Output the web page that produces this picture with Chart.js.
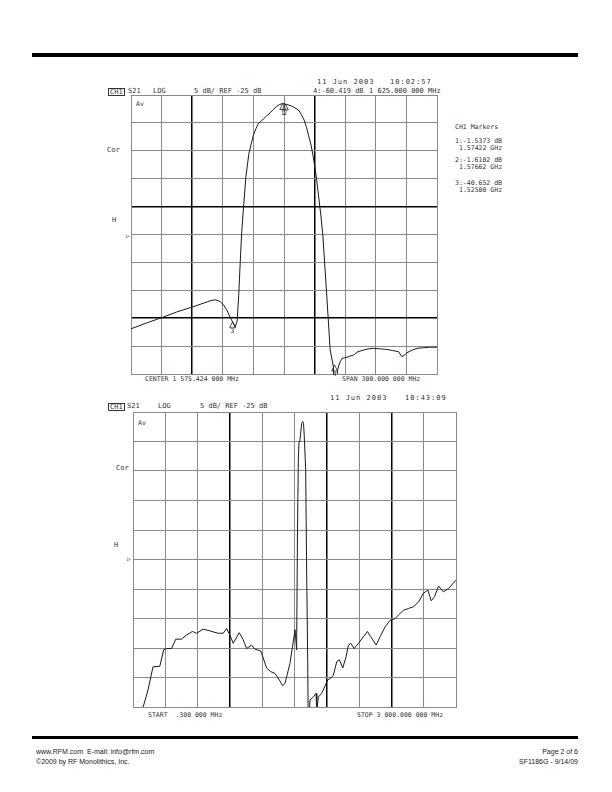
<!DOCTYPE html>
<html>
<head>
<meta charset="utf-8">
<script src="https://cdn.jsdelivr.net/npm/chart.js@4.4.0/dist/chart.umd.min.js"></script>
<style>
body { margin:0; background:#fff; }
#page { position:relative; width:612px; height:792px; overflow:hidden; }
.t { position:absolute; font-family:"DejaVu Sans Mono", monospace; font-size:7px; line-height:8px; color:#333; white-space:pre; }
.s { font-size:6.5px; }
.d { letter-spacing:1px; }
.box { border:1px solid #333; padding:0 1px; line-height:6px; }
.bar { position:absolute; background:#000; left:32px; width:546px; }
.foot { position:absolute; font-family:"Liberation Sans", Arial, sans-serif; font-size:7px; line-height:10px; color:#222; white-space:pre; }
canvas { position:absolute; }
</style>
</head>
<body>
<div id="page">
<div class="bar" style="top:53px;height:4px;"></div>

<div class="t d" style="left:317px;top:78px;">11 Jun 2003</div>
<div class="t d" style="left:390px;top:78px;">10:02:57</div>
<div class="t box" style="left:108px;top:88px;">CH1</div>
<div class="t" style="left:128px;top:87px;">S21</div>
<div class="t" style="left:153px;top:87px;">LOG</div>
<div class="t" style="left:194px;top:87px;">5 dB/ REF -25 dB</div>
<div class="t" style="left:313px;top:87px;">4:-60.419 dB</div>
<div class="t" style="left:369px;top:87px;">1 625.000 000 MHz</div>
<div class="t s" style="left:136px;top:100px;">Av</div>
<div class="t" style="left:107px;top:146px;">Cor</div>
<div class="t" style="left:112px;top:216px;">H</div>
<div class="t s" style="left:126px;top:232px;">▷</div>
<div class="t s" style="left:145px;top:375px;">CENTER 1 575.424 000 MHz</div>
<div class="t s" style="left:342px;top:375px;">SPAN 300.000 000 MHz</div>

<div class="t s" style="left:455px;top:123px;">CH1 Markers</div>
<div class="t s" style="left:455px;top:137px;">1:-1.5373 dB</div>
<div class="t s" style="left:459px;top:144px;">1.57422 GHz</div>
<div class="t s" style="left:455px;top:156px;">2:-1.6102 dB</div>
<div class="t s" style="left:459px;top:163px;">1.57662 GHz</div>
<div class="t s" style="left:455px;top:179px;">3:-40.652 dB</div>
<div class="t s" style="left:459px;top:186px;">1.52500 GHz</div>

<div class="t d" style="left:330px;top:394px;">11 Jun 2003</div>
<div class="t d" style="left:405px;top:394px;">10:43:09</div>
<div class="t box" style="left:108px;top:403px;">CH1</div>
<div class="t" style="left:127px;top:402px;">S21</div>
<div class="t" style="left:158px;top:402px;">LOG</div>
<div class="t" style="left:200px;top:402px;">5 dB/ REF -25 dB</div>
<div class="t s" style="left:138px;top:419px;">Av</div>
<div class="t" style="left:116px;top:464px;">Cor</div>
<div class="t" style="left:114px;top:541px;">H</div>
<div class="t s" style="left:127px;top:555px;">▷</div>
<div class="t s" style="left:148px;top:711px;">START  .300 000 MHz</div>
<div class="t s" style="left:357px;top:711px;">STOP 3 000.000 000 MHz</div>

<canvas id="c1" width="310" height="283" style="left:129px;top:93px;"></canvas>
<canvas id="c2" width="327" height="299" style="left:131px;top:410px;"></canvas>

<div class="bar" style="top:736px;height:3px;"></div>
<div class="foot" style="left:36px;top:747px;">www.RFM.com  E-mail: info@rfm.com</div>
<div class="foot" style="left:36px;top:757px;">©2009 by RF Monolithics, Inc.</div>
<div class="foot" style="right:34px;top:747px;text-align:right;">Page 2 of 6</div>
<div class="foot" style="right:34px;top:757px;text-align:right;">SF1186G - 9/14/09</div>
</div>

<script>
// upper sweep, MHz / dB
var topFreq = [1425.4, 1440, 1457, 1470, 1485.6, 1495, 1502.9, 1508, 1512.8, 1516,
	1519.3, 1522.5, 1525, 1527.5, 1529.5, 1531, 1532.5, 1534, 1536, 1538,
	1541, 1545.4, 1548, 1550.3, 1553, 1555.2, 1558, 1561.8, 1565, 1568.4,
	1571, 1574.22, 1576.62, 1580, 1583.1, 1586, 1589.6, 1592.5, 1595.2, 1597.5,
	1599.4, 1602, 1604.3, 1607, 1609.2, 1611.5, 1613.5, 1617, 1620.7, 1623.9,
	1625, 1627.9, 1630, 1632.3, 1635, 1637.2, 1640, 1643.6, 1648, 1653.4,
	1658, 1663.2, 1670, 1676.3, 1682, 1687.7, 1691, 1693.5, 1696, 1700,
	1705.8, 1712, 1718, 1725.4];
var topDb = [-41.9, -40.9, -39.8, -38.9, -38.0, -37.4, -36.9, -36.7, -37.0, -37.6,
	-38.5, -39.8, -40.65, -41.6, -40.5, -36.0, -30.0, -24.5, -19.5, -14.8,
	-10.5, -7.2, -6.0, -5.1, -4.7, -4.3, -3.8, -3.2, -2.6, -2.0,
	-1.7, -1.54, -1.61, -1.8, -2.0, -2.3, -2.7, -3.5, -4.5, -5.8,
	-7.2, -9.0, -11.3, -14.5, -17.9, -21.5, -25.1, -35.0, -45.7, -48.7,
	-60.4, -49.3, -48.0, -47.2, -47.1, -47.0, -46.8, -46.6, -46.0, -45.7,
	-45.5, -45.4, -45.5, -45.6, -45.8, -46.0, -46.9, -46.6, -46.2, -45.8,
	-45.4, -45.3, -45.2, -45.2];

// lower sweep, MHz / dB
var botFreq = [0.3, 60, 93, 140, 186, 249, 286, 311, 358, 398,
	451, 497, 553, 590, 652, 714, 791, 838, 869, 900,
	931, 987, 1024, 1055, 1102, 1133, 1186, 1210, 1241, 1279,
	1319, 1359, 1390, 1412, 1458, 1505, 1520, 1528, 1536, 1542,
	1551, 1567, 1575, 1584, 1591, 1604, 1612, 1623, 1629, 1644,
	1675, 1700, 1707, 1722, 1753, 1784, 1809, 1837, 1861, 1893,
	1917, 1948, 1979, 2001, 2023, 2054, 2094, 2140, 2177, 2209,
	2258, 2295, 2342, 2388, 2435, 2466, 2512, 2559, 2605, 2652,
	2698, 2739, 2770, 2801, 2838, 2884, 2931, 3000];
var botDb = [-52, -52, -50.1, -47.1, -43.2, -43.1, -40.3, -40.1, -40.1, -38.5,
	-38.5, -37.8, -37.2, -37.5, -36.8, -37.1, -37.5, -37.5, -36.7, -37.8,
	-39.2, -37.4, -38.6, -40.1, -39.5, -40.2, -40.5, -41.7, -43.4, -44.0,
	-44.3, -45.4, -46.4, -46.0, -42.6, -36.9, -40.3, -20, -8, -5,
	-4.7, -1.9, -1.6, -1.9, -4.2, -9.8, -25, -42.6, -55, -48.8,
	-48.3, -47.7, -50.5, -48.3, -47.7, -46.4, -45.4, -45.1, -44.6, -42.3,
	-42.0, -43.4, -41.5, -39.5, -39.2, -40.1, -39.2, -38.1, -37.2, -38.1,
	-39.5, -38.1, -36.4, -35.3, -35.0, -34.4, -33.6, -33.3, -33.0, -32.2,
	-30.7, -30.2, -32.0, -31.3, -29.5, -30.5, -29.9, -28.5];

var topStart = 1425.424, topStop = 1725.424;
var botStart = 0.3, botStop = 3000;

var markerNum = ['1', '2', '3', '4'];
var markerFreq = [1574.22, 1576.62, 1525.00, 1625.00];
var markerDb = [-1.5373, -1.6102, -40.652, -60.419];

var markerPlugin = {
	id: 'markers',
	afterDatasetsDraw: function(chart) {
		var ctx = chart.ctx, xs = chart.scales.x, ys = chart.scales.y;
		ctx.save();
		ctx.strokeStyle = '#222';
		ctx.fillStyle = '#222';
		ctx.lineWidth = 0.8;
		ctx.font = '6px "DejaVu Sans Mono"';
		ctx.textAlign = 'center';
		ctx.textBaseline = 'top';
		for (var i = 0; i < markerFreq.length; i++) {
			var px = xs.getPixelForValue(markerFreq[i]);
			var py = Math.min(ys.getPixelForValue(markerDb[i]), chart.chartArea.bottom - 9);
			ctx.beginPath();
			ctx.moveTo(px, py);
			ctx.lineTo(px - 3, py + 6);
			ctx.lineTo(px + 3, py + 6);
			ctx.closePath();
			ctx.stroke();
			ctx.fillText(markerNum[i], px, py + 6.5);
		}
		ctx.restore();
	}
};

function gridTicks(start, stop) {
	var t = [];
	for (var i = 0; i <= 10; i++) t.push({value: start + (stop - start) * i / 10});
	return t;
}

function makeChart(id, freq, db, start, stop, thickX, thickY, plugins) {
	var pts = [];
	for (var i = 0; i < freq.length; i++) pts.push({x: freq[i], y: db[i]});
	return new Chart(document.getElementById(id), {
		type: 'line',
		data: {
			datasets: [{
				data: pts,
				borderColor: '#1a1a1a',
				borderWidth: 1,
				pointRadius: 0,
				tension: 0
			}]
		},
		options: {
			responsive: false,
			animation: false,
			devicePixelRatio: 1,
			layout: {padding: 2},
			plugins: {legend: {display: false}, tooltip: {enabled: false}},
			scales: {
				x: {
					type: 'linear', min: start, max: stop,
					afterBuildTicks: function(axis) { axis.ticks = gridTicks(start, stop); },
					ticks: {display: false},
					grid: {
						drawTicks: false,
						color: function(c) { return thickX.indexOf(c.index) >= 0 ? '#000' : '#8a8a8a'; },
						lineWidth: function(c) { return thickX.indexOf(c.index) >= 0 ? 1.5 : 1; }
					},
					border: {color: '#8a8a8a'}
				},
				y: {
					min: -50, max: 0,
					ticks: {display: false, stepSize: 5},
					grid: {
						drawTicks: false,
						color: function(c) { return c.tick && thickY.indexOf(c.tick.value) >= 0 ? '#000' : '#8a8a8a'; },
						lineWidth: function(c) { return c.tick && thickY.indexOf(c.tick.value) >= 0 ? 1.5 : 1; }
					},
					border: {color: '#8a8a8a'}
				}
			}
		},
		plugins: plugins
	});
}

makeChart('c1', topFreq, topDb, topStart, topStop, [2, 6], [-20, -40], [markerPlugin]);
makeChart('c2', botFreq, botDb, botStart, botStop, [3, 6, 8], [], []);
</script>
</body>
</html>
